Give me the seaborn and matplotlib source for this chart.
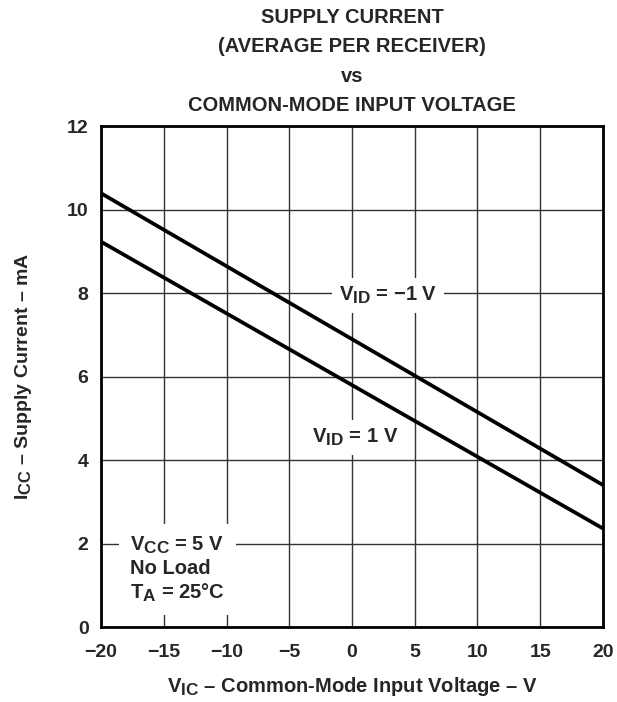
import matplotlib
matplotlib.use("Agg")
import matplotlib.pyplot as plt
import matplotlib._mathtext as mathtext_impl
import seaborn as sns
import pandas as pd

# end points (straight lines)
vic = [-20, 20]
icc_vid_neg1 = [10.39, 3.40]
icc_vid_pos1 = [9.23, 2.36]

xticks = [-20, -15, -10, -5, 0, 5, 10, 15, 20]
yticks = [0, 2, 4, 6, 8, 10, 12]

df = pd.DataFrame({
    "VIC": vic + vic,
    "ICC": icc_vid_neg1 + icc_vid_pos1,
    "curve": ["VID=-1"] * 2 + ["VID=1"] * 2,
})

sns.set_style("white")
plt.rcParams['font.family'] = ['Liberation Sans', 'DejaVu Sans']
plt.rcParams['font.weight'] = 'bold'
plt.rcParams['mathtext.fontset'] = 'custom'
plt.rcParams['mathtext.rm'] = 'Liberation Sans:bold'
plt.rcParams['mathtext.it'] = 'Liberation Sans:bold'
plt.rcParams['mathtext.bf'] = 'Liberation Sans:bold'
# subscripts in the datasheet are nearly full size
mathtext_impl.SHRINK_FACTOR = 0.85

fig = plt.figure(figsize=(6.17, 7.02), dpi=100)
ax = fig.add_axes([0.1637, 0.1068, 0.8136, 0.7137])

sns.lineplot(data=df, x="VIC", y="ICC", hue="curve", palette=["black", "black"],
             linewidth=2.7, legend=False, ax=ax, zorder=3)

ax.set_xlim(-20, 20)
ax.set_ylim(0, 12)
ax.set_xticks(xticks)
ax.set_yticks(yticks)
ax.grid(True, color="#333333", linewidth=1.0)
ax.tick_params(length=0, labelsize=14)
ax.tick_params(axis='x', pad=12)
ax.tick_params(axis='y', pad=9)
for lab in ax.get_xticklabels() + ax.get_yticklabels():
    lab.set_fontweight('bold')
for sp in ax.spines.values():
    sp.set_linewidth(2.0)
    sp.set_color("black")

ax.set_xlabel("V$_{IC}$ – Common-Mode Input Voltage – V", fontsize=14.5,
              fontweight='bold', labelpad=10)
ax.set_ylabel("I$_{CC}$ – Supply Current – mA", fontsize=14,
              fontweight='bold', labelpad=24)
ax.set_title("SUPPLY CURRENT\n(AVERAGE PER RECEIVER)\nvs\nCOMMON-MODE INPUT VOLTAGE",
             fontsize=14.5, fontweight='bold', linespacing=1.68, pad=11)

ax.text(2.85, 7.95, "V$_{ID}$ = −1 V", fontsize=14.5, fontweight='bold',
        ha='center', va='center',
        bbox=dict(facecolor="white", edgecolor="none", pad=5), zorder=4)
ax.text(0.25, 4.55, "V$_{ID}$ = 1 V", fontsize=14.5, fontweight='bold',
        ha='center', va='center',
        bbox=dict(facecolor="white", edgecolor="none", pad=5), zorder=4)
ax.text(-17.7, 1.38, "V$_{CC}$ = 5 V\nNo Load\nT$_{A}$ = 25°C", fontsize=14.5,
        fontweight='bold', ha='left', va='center', linespacing=1.2,
        bbox=dict(facecolor="white", edgecolor="none", pad=8), zorder=4)

fig.savefig("out.png", dpi=100)
